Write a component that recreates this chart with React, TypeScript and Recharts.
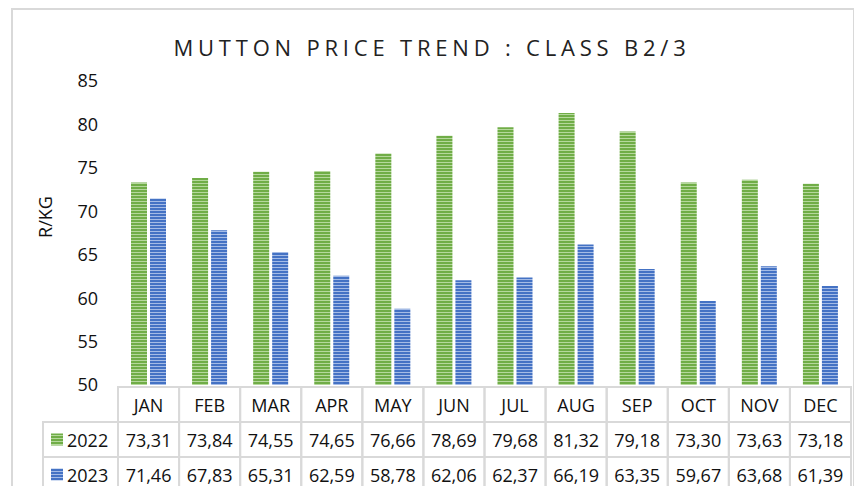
import React from 'react';
import { BarChart, Bar, XAxis, YAxis } from 'recharts';

const MONTHS = ['JAN', 'FEB', 'MAR', 'APR', 'MAY', 'JUN', 'JUL', 'AUG', 'SEP', 'OCT', 'NOV', 'DEC'];
const PRICES_2022 = [73.31, 73.84, 74.55, 74.65, 76.66, 78.69, 79.68, 81.32, 79.18, 73.3, 73.63, 73.18];
const PRICES_2023 = [71.46, 67.83, 65.31, 62.59, 58.78, 62.06, 62.37, 66.19, 63.35, 59.67, 63.68, 61.39];
const SERIES_NAMES = ['2022', '2023'];
const Y_TICKS = [50, 55, 60, 65, 70, 75, 80, 85];
const TITLE = 'MUTTON PRICE TREND : CLASS B2/3';
const Y_LABEL = 'R/KG';

const data = MONTHS.map((m, i) => ({ month: m, y2022: PRICES_2022[i], y2023: PRICES_2023[i] }));

const W = 854;
const H = 486;
const PLOT_LEFT = 118;
const PLOT_RIGHT = 851;
const PLOT_TOP = 81;
const PLOT_BOTTOM = 385;
const COL_W = (PLOT_RIGHT - PLOT_LEFT) / MONTHS.length;
const ROW_H = 35;
const TABLE_TOP = 387;
const LEG_LEFT = 43;
const GRID = '#D9D9D9';
const FONT = 'Open Sans, sans-serif';
const TXT = '#111';
const FS = 18;

const fmt = (v: number) => v.toFixed(2).replace('.', ',');

const TableTick = (props: any) => {
  const { x, payload } = props;
  const i = payload.index;
  const left = x - COL_W / 2;
  const vals = [PRICES_2022[i], PRICES_2023[i]];
  return (
    <g>
      <rect x={left} y={TABLE_TOP} width={COL_W} height={ROW_H} fill="none" stroke={GRID} strokeWidth={2} />
      <rect x={left} y={TABLE_TOP + ROW_H} width={COL_W} height={ROW_H} fill="none" stroke={GRID} strokeWidth={2} />
      <rect x={left} y={TABLE_TOP + 2 * ROW_H} width={COL_W} height={ROW_H} fill="none" stroke={GRID} strokeWidth={2} />
      <text x={x} y={TABLE_TOP + ROW_H / 2} textAnchor="middle" dominantBaseline="central" fontSize={FS} fontFamily={FONT} fill={TXT}>
        {payload.value}
      </text>
      {vals.map((v, k) => (
        <text key={k} x={x} y={TABLE_TOP + ROW_H * (k + 1) + ROW_H / 2} textAnchor="middle" dominantBaseline="central" fontSize={FS} fontFamily={FONT} fill={TXT}>
          {fmt(v)}
        </text>
      ))}
      {i === 0 && (
        <g>
          {SERIES_NAMES.map((s, k) => (
            <g key={s}>
              <rect x={LEG_LEFT} y={TABLE_TOP + ROW_H * (k + 1)} width={left - LEG_LEFT} height={ROW_H} fill="none" stroke={GRID} strokeWidth={2} />
              <rect x={51} y={TABLE_TOP + ROW_H * (k + 1) + ROW_H / 2 - 6} width={12} height={12} fill={k === 0 ? 'url(#stripeGreen)' : 'url(#stripeBlue)'} />
              <text x={67} y={TABLE_TOP + ROW_H * (k + 1) + ROW_H / 2} dominantBaseline="central" fontSize={FS} fontFamily={FONT} fill={TXT}>
                {s}
              </text>
            </g>
          ))}
        </g>
      )}
    </g>
  );
};

export default function App() {
  return (
    <div style={{ position: 'absolute', left: 0, top: 0, width: W, height: H, background: '#fff', overflow: 'hidden' }}>
      <svg width={0} height={0} style={{ position: 'absolute' }}>
        <defs>
          <pattern id="stripeGreen" patternUnits="userSpaceOnUse" width={4} height={3}>
            <rect x={0} y={0} width={4} height={3} fill="#70AD47" />
            <rect x={0} y={0} width={4} height={1} fill="#B5D89C" />
          </pattern>
          <pattern id="stripeBlue" patternUnits="userSpaceOnUse" width={4} height={3}>
            <rect x={0} y={0} width={4} height={3} fill="#4472C4" />
            <rect x={0} y={0} width={4} height={1} fill="#A4BBE6" />
          </pattern>
        </defs>
      </svg>
      <div style={{ position: 'absolute', left: 11, top: 8, width: 840, height: 500, border: `2px solid ${GRID}` }} />
      <div style={{ position: 'absolute', left: 0, top: 0 }}>
        <BarChart width={W} height={H} data={data} margin={{ top: PLOT_TOP, right: W - PLOT_RIGHT, bottom: 0, left: 0 }} barSize={16} barGap={3}>
          <XAxis dataKey="month" axisLine={false} tickLine={false} height={H - PLOT_BOTTOM} interval={0} tick={<TableTick />} />
          <YAxis domain={[50, 85]} ticks={Y_TICKS} width={PLOT_LEFT} axisLine={false} tickLine={false} tickSize={0} tickMargin={20} tick={{ fontSize: FS, fontFamily: FONT, fill: TXT }} />
          <Bar dataKey="y2022" name="2022" fill="url(#stripeGreen)" isAnimationActive={false} />
          <Bar dataKey="y2023" name="2023" fill="url(#stripeBlue)" isAnimationActive={false} />
        </BarChart>
      </div>
      <svg width={W} height={H} style={{ position: 'absolute', left: 0, top: 0, pointerEvents: 'none' }}>
        <text x={432} y={47} textAnchor="middle" dominantBaseline="central" fontSize={22} letterSpacing={4.8} fontFamily={FONT} fill="#222">
          {TITLE}
        </text>
        <text x={45} y={217} textAnchor="middle" dominantBaseline="central" fontSize={18} fontFamily={FONT} fill={TXT} transform="rotate(-90 45 217)">
          {Y_LABEL}
        </text>
      </svg>
    </div>
  );
}
